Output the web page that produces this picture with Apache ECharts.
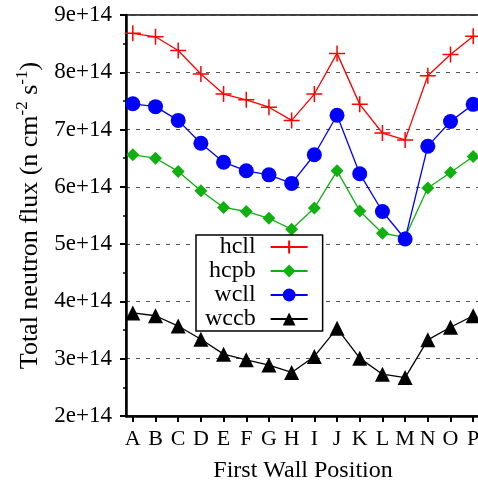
<!DOCTYPE html>
<html>
<head>
<meta charset="utf-8">
<script src="https://cdn.jsdelivr.net/npm/echarts@6/dist/echarts.min.js"></script>
<style>
  html, body { margin: 0; padding: 0; background: #fff; }
</style>
</head>
<body>
<div id="chart" style="width:478px;height:485px"></div>
<script>
// first wall positions
var positions = ['A','B','C','D','E','F','G','H','I','J','K','L','M','N','O','P'];
// total neutron flux, n cm-2 s-1
var hcll = [8.68e14, 8.62e14, 8.38e14, 7.97e14, 7.62e14, 7.52e14, 7.39e14, 7.16e14, 7.62e14, 8.33e14, 7.44e14, 6.94e14, 6.82e14, 7.94e14, 8.31e14, 8.63e14];
var hcpb = [6.56e14, 6.50e14, 6.27e14, 5.93e14, 5.64e14, 5.57e14, 5.45e14, 5.26e14, 5.63e14, 6.28e14, 5.58e14, 5.19e14, 5.12e14, 5.98e14, 6.25e14, 6.53e14];
var wcll = [7.45e14, 7.40e14, 7.16e14, 6.76e14, 6.43e14, 6.28e14, 6.21e14, 6.06e14, 6.56e14, 7.25e14, 6.23e14, 5.57e14, 5.09e14, 6.71e14, 7.14e14, 7.44e14];
var wccb = [3.80e14, 3.75e14, 3.57e14, 3.34e14, 3.08e14, 2.98e14, 2.89e14, 2.76e14, 3.04e14, 3.53e14, 3.01e14, 2.73e14, 2.67e14, 3.33e14, 3.55e14, 3.75e14];

var serif = '"Liberation Serif", "DejaVu Serif", serif';
var idx = positions.map(function (p, i) { return i; });

function pairs(arr) {
  return arr.map(function (v, i) { return [i, v]; });
}

function mkSeries(name, values, color, symbol, size) {
  return {
    name: name,
    type: 'line',
    data: pairs(values),
    symbol: symbol,
    symbolSize: size,
    color: color,
    lineStyle: { color: color, width: 1.3 },
    itemStyle: { color: color, borderColor: color, borderWidth: symbol.indexOf('path://') === 0 ? 1.5 : 0 },
    emphasis: { disabled: true }
  };
}

var chart = echarts.init(document.getElementById('chart'));
chart.setOption({
  backgroundColor: '#fff',
  animation: false,
  grid: {
    left: 126, top: 15, width: 354, bottom: 69,
    outerBoundsMode: 'none',
    show: true, borderColor: '#000', borderWidth: 1.5
  },
  legend: {
    orient: 'vertical',
    left: 196, top: 235,
    align: 'right',
    itemWidth: 37, itemHeight: 16, itemGap: 0,
    padding: [0, 14, 0, 9],
    borderColor: '#000', borderWidth: 1.5,
    backgroundColor: '#fff',
    textStyle: { fontFamily: serif, fontSize: 24, color: '#000', padding: [0, 10, 0, 0] },
    data: ['hcll', 'hcpb', 'wcll', 'wccb']
  },
  xAxis: {
    type: 'value',
    min: -0.3, max: 15.3,
    name: 'First Wall Position',
    nameLocation: 'middle',
    nameGap: 43,
    nameTextStyle: { fontFamily: serif, fontSize: 24, color: '#000' },
    axisLine: { onZero: false, lineStyle: { color: '#000', width: 2.5 } },
    axisTick: { customValues: idx, length: 6, lineStyle: { color: '#000', width: 2 } },
    axisLabel: {
      customValues: idx,
      margin: 12,
      fontFamily: serif, fontSize: 22, color: '#000',
      formatter: function (v) { return positions[Math.round(v)]; }
    },
    splitLine: { show: false }
  },
  yAxis: {
    type: 'value',
    min: 2e14, max: 9e14, interval: 1e14,
    name: '{a|Total neutron flux (n cm}{s|-2}{a| s}{s|-1}{a|)}',
    nameLocation: 'middle',
    nameGap: 76,
    nameTextStyle: {
      rich: {
        a: { fontFamily: serif, fontSize: 26, color: '#000', lineHeight: 32 },
        s: { fontFamily: serif, fontSize: 17, color: '#000', lineHeight: 17, verticalAlign: 'top' }
      }
    },
    axisLine: { show: true, onZero: false, lineStyle: { color: '#000', width: 2.5 } },
    axisTick: { length: 6, lineStyle: { color: '#000', width: 2 } },
    minorTick: { show: true, splitNumber: 2, length: 3, lineStyle: { color: '#000', width: 1.5 } },
    axisLabel: {
      margin: 14,
      fontFamily: serif, fontSize: 23, color: '#000',
      formatter: function (v) { return Math.round(v / 1e14) + 'e+14'; }
    },
    splitLine: { lineStyle: { color: '#555', width: 1, type: [4, 6] } }
  },
  series: [
    mkSeries('hcll', hcll, '#ff0000', 'path://M5,0L5,10M0,5L10,5', 16),
    mkSeries('hcpb', hcpb, '#11b011', 'diamond', 13),
    mkSeries('wcll', wcll, '#0000ff', 'circle', 15),
    mkSeries('wccb', wccb, '#000000', 'triangle', 15)
  ]
});
</script>
</body>
</html>
